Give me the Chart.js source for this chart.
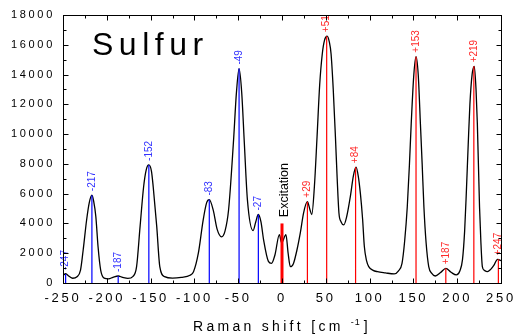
<!DOCTYPE html>
<html>
<head>
<meta charset="utf-8">
<script src="https://cdn.jsdelivr.net/npm/chart.js@4.4.1/dist/chart.umd.min.js"></script>
<style>
  html, body { margin: 0; padding: 0; background: #fff; }
  #wrap { width: 516px; height: 336px; }
</style>
</head>
<body>
<div id="wrap"><canvas id="chart" width="516" height="336"></canvas></div>
<script>
// Raman-Spektrum (Messkurve)
const shift = [
  -250, -247, -243, -239, -234, -230, -227, -223, -220, -217, -215, -212.5, -210, -207, -203, -198, -193, -187, -182, -176,
  -170, -166, -162, -158, -155, -152, -149, -147, -143, -139.5, -134, -125, -115, -105, -101, -95.5, -90, -86, -83, -78.5,
  -74, -69, -65, -61, -55.5, -52, -49, -46, -43, -39.5, -33, -30, -27, -24, -21, -15.5, -12, -8, -3, -0.5,
  4.5, 7, 9.5, 13, 17, 21, 24.6, 29, 32, 34, 37, 40, 43, 46, 48.5, 51.5, 54, 56, 58.5, 61,
  63, 65, 67.5, 70.5, 74, 78, 81.5, 84.5, 87, 89.5, 92, 94, 96.5, 99, 104, 109, 118, 128, 133, 137,
  140, 143, 145.5, 147.5, 150.5, 153, 155.5, 158, 160, 162, 164.5, 167.5, 171, 175, 181, 187, 193, 199, 203, 206,
  208.5, 210.5, 212.5, 214.5, 217, 219.5, 221.5, 223, 225.5, 227, 228.7, 231, 234.5, 238, 242, 246, 248, 250
];
const intensity = [
  520, 620, 450, 320, 420, 870, 2200, 4250, 5400, 5900, 5500, 4450, 2450, 870, 330, 280, 380, 470, 380, 310,
  450, 1100, 3800, 6450, 7600, 7930, 7500, 6450, 3800, 1100, 430, 330, 380, 520, 760, 2000, 4230, 5400, 5600, 4900,
  3600, 3100, 3500, 4900, 9400, 12800, 14400, 12800, 9400, 5600, 3520, 4100, 4600, 4100, 2900, 1450, 1320, 1900, 3250, 2700,
  3250, 2000, 1100, 1300, 2200, 3400, 4700, 5460, 4900, 4600, 6500, 9800, 13300, 15400, 16300, 16580, 16200, 15400, 13000, 9800,
  7000, 4700, 4100, 3900, 4500, 5800, 7200, 7780, 7200, 6000, 4300, 2450, 1500, 1100, 850, 760, 680, 610, 820, 1320,
  2800, 5100, 8000, 10700, 14000, 15200, 14000, 10700, 8000, 5100, 2700, 1100, 650, 470, 700, 985, 720, 540, 800, 1550,
  3500, 6200, 9200, 12000, 14000, 14550, 13000, 10700, 5100, 2800, 1100, 850, 760, 900, 1200, 1590, 1550, 1500
];

// Stokes-Linien (blau) und Anti-Stokes-Linien (rot)
const stokesShift = [-247, -217, -187, -152, -83, -49, -27];
const stokesHeight = [600, 5900, 470, 7930, 5600, 14400, 4600];
const stokesLabel = ['-247', '-217', '-187', '-152', '-83', '-49', '-27'];
const antiShift = [29, 51, 84, 153, 187, 219, 247];
const antiHeight = [5460, 16580, 7780, 15200, 985, 14550, 1590];
const antiLabel = ['+29', '+51', '+84', '+153', '+187', '+219', '+247'];
const excitationShift = [0];
const excitationHeight = [4000];

const xMin = -250, xMax = 250, xStep = 50;
const yMin = 0, yMax = 18000, yStep = 2000;

const FONT = '"Liberation Sans", Arial, sans-serif';

// vertikale Linien als Liniensegmente mit Luecken
function sticks(xs, hs) {
  const pts = [];
  xs.forEach((x, i) => {
    pts.push({ x: x, y: 0 }, { x: x, y: hs[i] }, { x: x, y: null });
  });
  return pts;
}

const decor = {
  id: 'decor',
  beforeDraw(chart) {
    chart.ctx.letterSpacing = '2.7px';
  },
  afterDatasetsDraw(chart) {
    const { ctx, chartArea: a, scales: { x, y } } = chart;
    ctx.save();
    ctx.letterSpacing = '0px';
    // nur oben abschneiden (+51 laeuft in den Rahmen)
    ctx.beginPath();
    ctx.rect(0, a.top, chart.width, a.bottom - a.top);
    ctx.clip();
    ctx.textAlign = 'left';
    ctx.textBaseline = 'middle';

    const label = (xv, yv, text, color, font, dx) => {
      ctx.save();
      ctx.translate(x.getPixelForValue(xv) + (dx || 0), y.getPixelForValue(yv) - 4);
      ctx.rotate(-Math.PI / 2);
      ctx.font = font;
      ctx.fillStyle = color;
      ctx.fillText(text, 0, 0);
      ctx.restore();
    };
    stokesShift.forEach((s, i) => label(s, stokesHeight[i], stokesLabel[i], '#3333ff', '10px ' + FONT));
    antiShift.forEach((s, i) => label(s, antiHeight[i], antiLabel[i], '#ff2a2a', '10px ' + FONT));
    label(excitationShift[0], excitationHeight[0] + 150, 'Excitation', '#000', '12.5px ' + FONT, 3);

    // Titel
    ctx.font = '32px ' + FONT;
    ctx.letterSpacing = '5.5px';
    ctx.fillStyle = '#000';
    ctx.textBaseline = 'alphabetic';
    ctx.fillText('Sulfur', 92, 55);
    ctx.restore();
  },
  afterDraw(chart) {
    const { ctx, chartArea: a, scales: { x, y } } = chart;
    const L = Math.round(a.left) + 0.5, R = Math.round(a.right) + 0.5;
    const T = Math.round(a.top) + 0.5, B = Math.round(a.bottom) + 0.5;
    ctx.save();
    ctx.strokeStyle = '#000';
    ctx.lineWidth = 1;
    ctx.strokeRect(L, T, R - L, B - T);
    ctx.beginPath();
    for (let v = xMin + 25; v < xMax; v += 25) {
      const px = Math.round(x.getPixelForValue(v)) + 0.5;
      const len = v % 50 === 0 ? 5 : 3;
      ctx.moveTo(px, B); ctx.lineTo(px, B - len);
      ctx.moveTo(px, T); ctx.lineTo(px, T + len);
    }
    for (let v = yMin + 1000; v < yMax; v += 1000) {
      const py = Math.round(y.getPixelForValue(v)) + 0.5;
      const len = v % 2000 === 0 ? 5 : 3;
      ctx.moveTo(L, py); ctx.lineTo(L + len, py);
      ctx.moveTo(R, py); ctx.lineTo(R - len, py);
    }
    ctx.stroke();

    // Achsentitel
    ctx.fillStyle = '#000';
    ctx.textBaseline = 'alphabetic';
    ctx.textAlign = 'left';
    ctx.font = '14px ' + FONT;
    ctx.letterSpacing = '3.3px';
    let cx = 193;
    const base = 331;
    const t1 = 'Raman shift [cm ';
    ctx.fillText(t1, cx, base);
    cx += ctx.measureText(t1).width;
    ctx.font = '9px ' + FONT;
    ctx.letterSpacing = '1px';
    ctx.fillText('-1', cx, base - 6);
    cx += ctx.measureText('-1').width + 3;
    ctx.font = '14px ' + FONT;
    ctx.letterSpacing = '3.3px';
    ctx.fillText(']', cx, base);
    ctx.restore();
  }
};

new Chart(document.getElementById('chart'), {
  type: 'line',
  data: {
    datasets: [
      {
        data: sticks(excitationShift, excitationHeight),
        borderColor: '#ff0000',
        borderWidth: 3,
        pointRadius: 0,
        spanGaps: false
      },
      {
        data: sticks(stokesShift, stokesHeight),
        borderColor: '#0000ff',
        borderWidth: 1.2,
        pointRadius: 0,
        spanGaps: false
      },
      {
        data: sticks(antiShift, antiHeight),
        borderColor: '#ff0000',
        borderWidth: 1.2,
        pointRadius: 0,
        spanGaps: false
      },
      {
        data: shift.map((s, i) => ({ x: s, y: intensity[i] })),
        borderColor: '#000',
        borderWidth: 1.3,
        pointRadius: 0,
        cubicInterpolationMode: 'monotone'
      }
    ]
  },
  options: {
    responsive: false,
    animation: false,
    events: [],
    layout: { padding: { left: 0, top: 15, right: 15, bottom: 0 } },
    plugins: {
      legend: { display: false },
      tooltip: { enabled: false }
    },
    scales: {
      x: {
        type: 'linear',
        min: xMin,
        max: xMax,
        grid: { display: false, drawTicks: false },
        border: { display: false },
        afterFit: (s) => {
          s.height = 53;
          s.paddingLeft = 0;
          s.paddingRight = 0;
        },
        ticks: {
          stepSize: xStep,
          autoSkip: false,
          maxRotation: 0,
          padding: 8,
          color: '#000',
          font: { family: FONT, size: 13 },
          callback: (v) => String(v)
        }
      },
      y: {
        min: yMin,
        max: yMax,
        grid: { display: false, drawTicks: false },
        border: { display: false },
        afterFit: (s) => {
          s.width = 63;
          s.paddingTop = 0;
          s.paddingBottom = 0;
        },
        ticks: {
          stepSize: yStep,
          autoSkip: false,
          padding: 8,
          color: '#000',
          font: { family: FONT, size: 11 },
          callback: (v) => String(v)
        }
      }
    }
  },
  plugins: [decor]
});
</script>
</body>
</html>
